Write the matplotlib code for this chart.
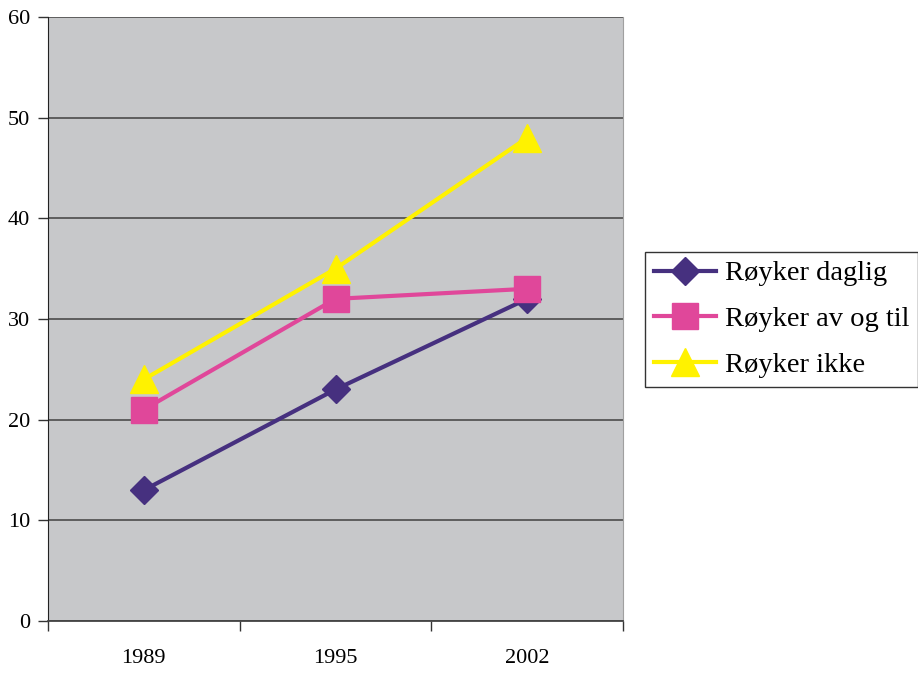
import matplotlib.pyplot as plt

years = ["1989", "1995", "2002"]
daglig = [13, 23, 32]
av_og_til = [21, 32, 33]
ikke = [24, 35, 48]
y_ticks = [0, 10, 20, 30, 40, 50, 60]

plt.rcParams["font.family"] = ["Liberation Serif", "DejaVu Serif"]

fig = plt.figure(figsize=(9.18, 6.74), dpi=100)
ax = fig.add_axes([48 / 918, 53 / 674, 575 / 918, 604 / 674])
ax.set_facecolor("#c7c8ca")

x = list(range(len(years)))
ax.plot(x, daglig, color="#46307f", lw=3, marker="D", markersize=14.5,
        label="Røyker daglig", zorder=3)
ax.plot(x, av_og_til, color="#e0479a", lw=3, marker="s", markersize=19,
        label="Røyker av og til", zorder=4)
ax.plot(x, ikke, color="#fff200", lw=3, marker="^", markersize=20,
        label="Røyker ikke", zorder=2)

ax.set_xlim(-0.5, len(years) - 0.5)
ax.set_ylim(0, 60)
ax.set_yticks(y_ticks)
ax.yaxis.grid(True, color="#555555", lw=1.3)
ax.set_axisbelow(True)

# category boundaries carry the tick marks, labels sit in between
ax.set_xticks([i - 0.5 for i in range(len(years) + 1)])
ax.set_xticklabels([])
ax.set_xticks(x, minor=True)
ax.set_xticklabels(years, minor=True)
ax.tick_params(axis="x", which="major", direction="out", length=7, width=1, color="#333333")
ax.tick_params(axis="x", which="minor", length=0, pad=20, labelsize=16)
ax.tick_params(axis="y", direction="out", length=7, width=1, pad=6, labelsize=16, color="#333333")

ax.spines["top"].set_visible(False)
ax.spines["right"].set_color("#a0a0a0")
ax.spines["left"].set_color("#222222")
ax.spines["bottom"].set_color("#444444")
ax.spines["bottom"].set_linewidth(1.3)

leg = fig.legend(loc="upper left", bbox_to_anchor=(645 / 918, 1 - 252 / 674),
                 fontsize=20.5, frameon=True, fancybox=False, framealpha=1,
                 edgecolor="#333333", borderaxespad=0, borderpad=0.3,
                 handlelength=2.2, handletextpad=0.3, labelspacing=0.7)
leg.get_frame().set_linewidth(1)

fig.savefig("out.png", dpi=100)
